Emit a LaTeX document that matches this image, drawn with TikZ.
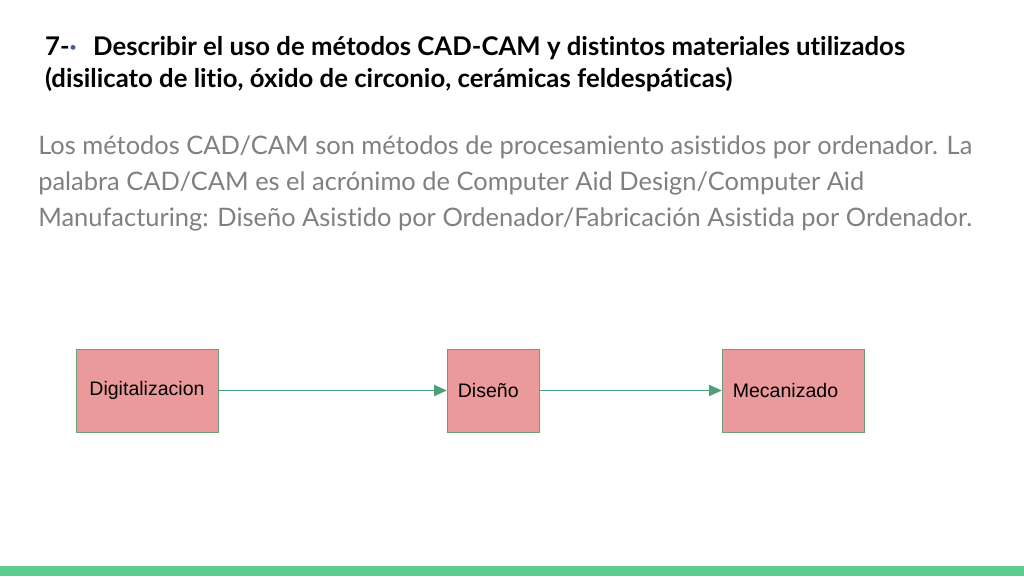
\documentclass[tikz,border=0pt]{standalone}
\usepackage{fontspec}
\setmainfont{Lato}[Ligatures=NoCommon]
\newfontfamily\boxfont{Liberation Sans}
\usetikzlibrary{positioning,arrows.meta}
\definecolor{boxfill}{HTML}{EA9A9A}
\definecolor{boxline}{HTML}{6E9E78}
\definecolor{arrowgreen}{HTML}{4E9E78}
\definecolor{bargreen}{HTML}{5FCB8F}
\definecolor{bodygray}{HTML}{808080}
\definecolor{dotblue}{HTML}{3A5FA0}
\tikzset{
  stagebox/.style={draw=boxline, fill=boxfill, minimum height=2.075cm, inner xsep=0.27cm,
    font=\boxfont\fontsize{13.9}{16}\selectfont, text=black},
  flowarrow/.style={draw=arrowgreen, line width=0.8pt, -{Triangle[length=9pt,width=8pt]}},
  titleline/.style={anchor=west, inner sep=0pt, font=\bfseries\fontsize{18.3}{21}\selectfont},
  bodyline/.style={anchor=west, inner sep=0pt, text=bodygray, font=\fontsize{18.1}{21}\selectfont}
}
\begin{document}
\begin{tikzpicture}
  \useasboundingbox (0,0) rectangle (25.6,14.4);
  \fill[bargreen] (0,0) rectangle (25.6,0.25);

  \node[titleline] (title1) at (1.12,13.2) {7-{\color{dotblue}·}\hspace{0.4em} Describir el uso de métodos CAD-CAM y distintos materiales utilizados};
  \node[titleline] (title2) at (1.12,12.4) {(disilicato de litio, óxido de circonio, cerámicas feldespáticas)};

  \node[bodyline] (body1) at (0.95,10.72) {Los métodos CAD/CAM son métodos de procesamiento asistidos por ordenador. La};
  \node[bodyline] (body2) at (0.95,9.82) {palabra CAD/CAM es el acrónimo de Computer Aid Design/Computer Aid};
  \node[bodyline] (body3) at (0.95,8.92) {Manufacturing: Diseño Asistido por Ordenador/Fabricación Asistida por Ordenador.};

  \node[stagebox, minimum width=3.55cm] (digit) at (3.675,4.6375) {Digitalizacion};
  \node[stagebox, minimum width=2.3cm, text width=1.76cm, align=left] (diseno) at (12.325,4.6375) {Diseño};
  \node[stagebox, minimum width=3.55cm, text width=3.01cm, align=left] (mecan) at (19.825,4.6375) {Mecanizado};

  \draw[flowarrow] (digit) -- (diseno);
  \draw[flowarrow] (diseno) -- (mecan);
\end{tikzpicture}
\end{document}
